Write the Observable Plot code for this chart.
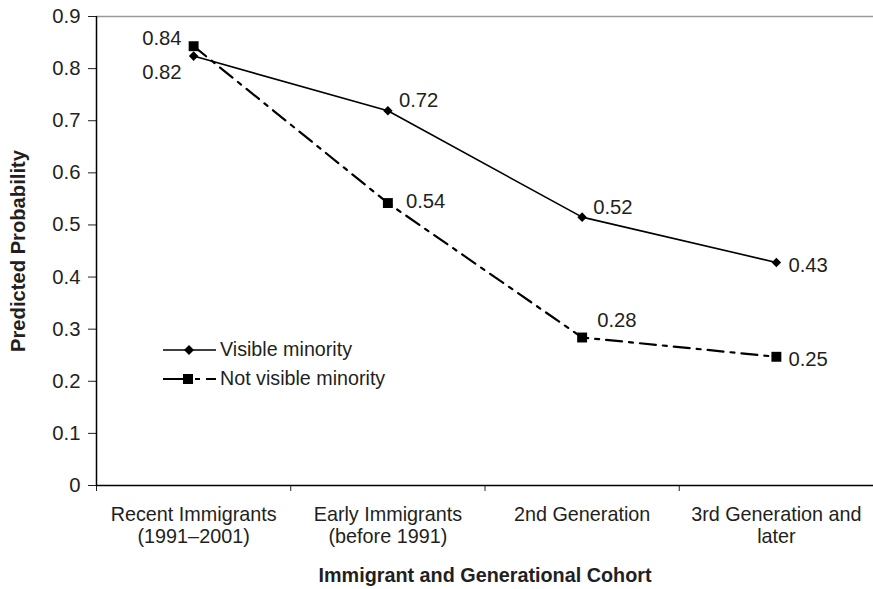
<!DOCTYPE html>
<html><head><meta charset="utf-8">
<script src="https://cdn.jsdelivr.net/npm/d3@7"></script>
<script src="https://cdn.jsdelivr.net/npm/@observablehq/plot@0.6"></script>
<style>
body{margin:0;background:#fff;font-family:"Liberation Sans",Arial,sans-serif;}
#wrap{position:relative;width:873px;height:589px;overflow:hidden;}
#legend{position:absolute;left:162px;top:335px;font-size:19.7px;color:#231f20;}
.row{display:flex;align-items:center;height:29px;}
.row svg{margin-right:4px;}
</style></head><body>
<div id="wrap"><div id="chart"></div><div id="legend"></div></div>
<script>
const categories = ["Recent Immigrants\n(1991–2001)", "Early Immigrants\n(before 1991)", "2nd Generation", "3rd Generation and\nlater"];
const seriesNames = ["Visible minority", "Not visible minority"];
const visibleMinority = [0.824, 0.719, 0.515, 0.428];
const notVisibleMinority = [0.843, 0.542, 0.284, 0.247];
const yTicks = [0, 0.1, 0.2, 0.3, 0.4, 0.5, 0.6, 0.7, 0.8, 0.9];
const xTitle = "Immigrant and Generational Cohort";
const yTitle = "Predicted Probability";

const rows = [];
[visibleMinority, notVisibleMinority].forEach((vals, s) => {
  vals.forEach((v, i) => rows.push({series: seriesNames[s], i, x: i + 0.5, value: v, label: v.toFixed(2)}));
});
const vis = rows.filter(d => d.series === seriesNames[0]);
const nvis = rows.filter(d => d.series === seriesNames[1]);
const cats = categories.map((c, i) => ({x: i + 0.5, c}));
const ink = "#231f20";
const lbl = {x: "x", y: "value", text: "label", fontSize: 20.3, fill: ink, textAnchor: "start"};

const chart = Plot.plot({
  width: 873, height: 589,
  marginLeft: 96, marginRight: 0, marginTop: 16, marginBottom: 104,
  style: {fontFamily: "'Liberation Sans', Arial, sans-serif", fontSize: "20.3px", color: ink, background: "#fff"},
  x: {type: "linear", domain: [0, categories.length], label: null},
  y: {domain: [0, 0.9], label: null},
  marks: [
    Plot.axisY({ticks: yTicks, tickSize: 8, tickPadding: 8, fontSize: 20.3, tickFormat: d => d === 0 ? "0" : d.toFixed(1), label: null}),
    Plot.axisX({ticks: [0, 1, 2, 3], tickSize: 6, tickFormat: () => "", label: null}),
    Plot.ruleY([0.9], {stroke: "#9a9a9a", strokeWidth: 1.5}),
    Plot.ruleX([0], {stroke: "#000", strokeWidth: 1.5}),
    Plot.ruleY([0], {stroke: "#000", strokeWidth: 1.5}),
    Plot.line(vis, {x: "x", y: "value", stroke: "#000", strokeWidth: 1.6}),
    Plot.line(nvis, {x: "x", y: "value", stroke: "#000", strokeWidth: 2.2, strokeDasharray: "16,7,4,7"}),
    Plot.dot(vis, {x: "x", y: "value", symbol: "diamond2", r: 4.3, fill: "#000", stroke: "none"}),
    Plot.dot(nvis, {x: "x", y: "value", symbol: "square", r: 5.6, fill: "#000", stroke: "none"}),
    // value labels
    Plot.text(vis.filter(d => d.i === 0), {...lbl, textAnchor: "end", dx: -12, dy: 16}),
    Plot.text(nvis.filter(d => d.i === 0), {...lbl, textAnchor: "end", dx: -12, dy: -8}),
    Plot.text(vis.filter(d => d.i === 1 || d.i === 2), {...lbl, dx: 11, dy: -10}),
    Plot.text(vis.filter(d => d.i === 3), {...lbl, dx: 12, dy: 3}),
    Plot.text(nvis.filter(d => d.i === 1), {...lbl, dx: 18, dy: -2}),
    Plot.text(nvis.filter(d => d.i === 2), {...lbl, dx: 15, dy: -17}),
    Plot.text(nvis.filter(d => d.i === 3), {...lbl, dx: 12, dy: 3}),
    // category labels
    Plot.text(cats, {x: "x", y: () => 0, text: "c", lineAnchor: "top", dy: 19, lineHeight: 1.15, fontSize: 19.8, fill: ink}),
    // axis titles
    Plot.text([xTitle], {frameAnchor: "bottom", text: d => d, dy: 96, fontSize: 19.8, fontWeight: "bold", fill: ink}),
    Plot.text([yTitle], {frameAnchor: "left", textAnchor: "middle", text: d => d, rotate: -90, dx: -78, fontSize: 20.2, fontWeight: "bold", fill: ink})
  ]
});
document.getElementById("chart").appendChild(chart);

// legend
const legend = d3.select("#legend");
const styles = [
  {w: 1.6, sym: "diamond"},
  {w: 2.2, sym: "square"}
];
seriesNames.forEach((name, s) => {
  const row = legend.append("div").attr("class", "row");
  const svg = row.append("svg").attr("width", 54).attr("height", 20);
  const st = styles[s];
  svg.append("line").attr("x1", 1).attr("x2", 54).attr("y1", 10).attr("y2", 10)
    .attr("stroke", "#000").attr("stroke-width", st.w).attr("stroke-dasharray", s === 1 ? "20,12,5,6,11" : null);
  if (st.sym === "diamond") {
    svg.append("path").attr("d", "M27,5L32,10L27,15L22,10Z").attr("fill", "#000");
  } else {
    svg.append("rect").attr("x", 21).attr("y", 5).attr("width", 10).attr("height", 10).attr("fill", "#000");
  }
  row.append("span").text(name);
});
</script>
</body></html>
